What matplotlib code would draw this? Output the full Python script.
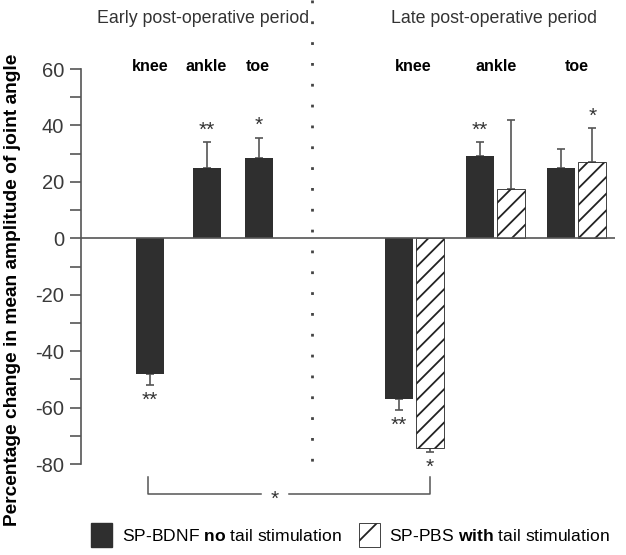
import matplotlib.pyplot as plt
from matplotlib.patches import Patch

plt.rcParams['font.family'] = ['Liberation Sans', 'DejaVu Sans']
plt.rcParams['axes.unicode_minus'] = False
plt.rcParams['mathtext.fontset'] = 'custom'
plt.rcParams['mathtext.rm'] = 'Liberation Sans'
plt.rcParams['mathtext.bf'] = 'Liberation Sans:bold'
plt.rcParams['hatch.linewidth'] = 1.3

joints = ['knee', 'ankle', 'toe']

# early post-operative period (SP-BDNF only)
early_vals = [-48, 25, 28.5]
early_err = [4, 9, 7]
early_stars = ['**', '**', '*']

# late post-operative period
late_bdnf = [-57, 29, 25]
late_bdnf_err = [4, 5, 6.5]
late_bdnf_stars = ['**', '**', '']
late_pbs = [-74.5, 17.5, 27]
late_pbs_err = [1.2, 24.5, 12]
late_pbs_stars = ['*', '', '*']

early_pos = [2.42, 4.42, 6.25]
late_pos = [11.7, 14.55, 17.4]
w = 0.98
off = 0.54

dark = '#2f2f2f'
grey = '#555555'

fig = plt.figure(figsize=(6.26, 5.55), dpi=100)
ax = fig.add_axes([81 / 626, 1 - 464 / 555, 534 / 626, 395 / 555])
ax.set_xlim(0, 18.74)
ax.set_ylim(-80, 60)


def bars(pos, vals, errs, stars, **kw):
    b = ax.bar(pos, vals, width=w, zorder=2, **kw)
    lo = [e if v < 0 else 0 for v, e in zip(vals, errs)]
    hi = [e if v >= 0 else 0 for v, e in zip(vals, errs)]
    ax.errorbar(pos, vals, yerr=[lo, hi], fmt='none', ecolor=grey,
                elinewidth=1.2, capsize=3, capthick=1.2, zorder=1)
    for x, v, e, s in zip(pos, vals, errs, stars):
        if not s:
            continue
        if v < 0:
            ax.text(x, v - e - 2, s, ha='center', va='top', fontsize=15,
                    color='#333333')
        else:
            ax.text(x, v + e + 1, s, ha='center', va='bottom', fontsize=15,
                    color='#333333')
    return b


bars(early_pos, early_vals, early_err, early_stars, color=dark)
bars([p - off for p in late_pos], late_bdnf, late_bdnf_err, late_bdnf_stars,
     color=dark)
bars([p + off for p in late_pos], late_pbs, late_pbs_err, late_pbs_stars,
     facecolor='white', edgecolor='#222222', hatch='//', linewidth=0.6)

ax.axhline(0, color=grey, lw=1.2, zorder=3)

for s in ['top', 'right', 'bottom']:
    ax.spines[s].set_visible(False)
ax.spines['left'].set_color(grey)
ax.spines['left'].set_linewidth(1.2)
ax.set_xticks([])
ax.set_yticks(range(-80, 61, 20))
ax.set_yticks(range(-70, 60, 20), minor=True)
ax.tick_params(axis='y', which='both', length=8, width=1.2, color=grey,
               labelsize=14.5, labelcolor='#3a3a3a', pad=4)
ax.set_ylabel('Percentage change in mean amplitude of joint angle',
              fontsize=13.8, fontweight='bold')
ax.yaxis.set_label_coords(-0.113, 0.44)

# dotted separator
ax.plot([8.1, 8.1], [84.4, -82], ls=(0, (1, 6.5)), lw=2, color='#444444',
        clip_on=False)

# period titles and joint labels
ax.text(4.3, 78, 'Early post-operative period', ha='center', va='center',
        fontsize=12.8, color='#333333', clip_on=False)
ax.text(14.5, 78, 'Late post-operative period', ha='center', va='center',
        fontsize=12.8, color='#333333', clip_on=False)
for x, j in zip([2.42, 4.39, 6.21], joints):
    ax.text(x, 61, j, ha='center', va='center', fontsize=11.5,
            fontweight='bold', clip_on=False)
for x, j in zip([11.65, 14.56, 17.4], joints):
    ax.text(x, 61, j, ha='center', va='center', fontsize=11.5,
            fontweight='bold', clip_on=False)

# comparison bracket
bx0, bx1, bmid = 2.35, 12.25, 6.8
ax.plot([bx0, bx0, bmid - 0.5], [-84.5, -90.5, -90.5], color=grey, lw=1.1,
        clip_on=False)
ax.plot([bmid + 0.5, bx1, bx1], [-90.5, -90.5, -84.5], color=grey, lw=1.1,
        clip_on=False)
ax.text(bmid, -89, '*', ha='center', va='top', fontsize=15, color='#333333',
        clip_on=False)

handles = [Patch(facecolor=dark, edgecolor=dark),
           Patch(facecolor='white', edgecolor='#222222', hatch='/', linewidth=0.6)]
labels = ['SP-BDNF $\\mathbf{no}$ tail stimulation',
          'SP-PBS $\\mathbf{with}$ tail stimulation']
fig.legend(handles, labels, loc='center', bbox_to_anchor=(0.56, 0.036),
           ncol=2, frameon=False, fontsize=12.6, handlelength=1.2,
           handleheight=1.7, handletextpad=0.55, columnspacing=1.0)

fig.savefig('out.png', dpi=100)
